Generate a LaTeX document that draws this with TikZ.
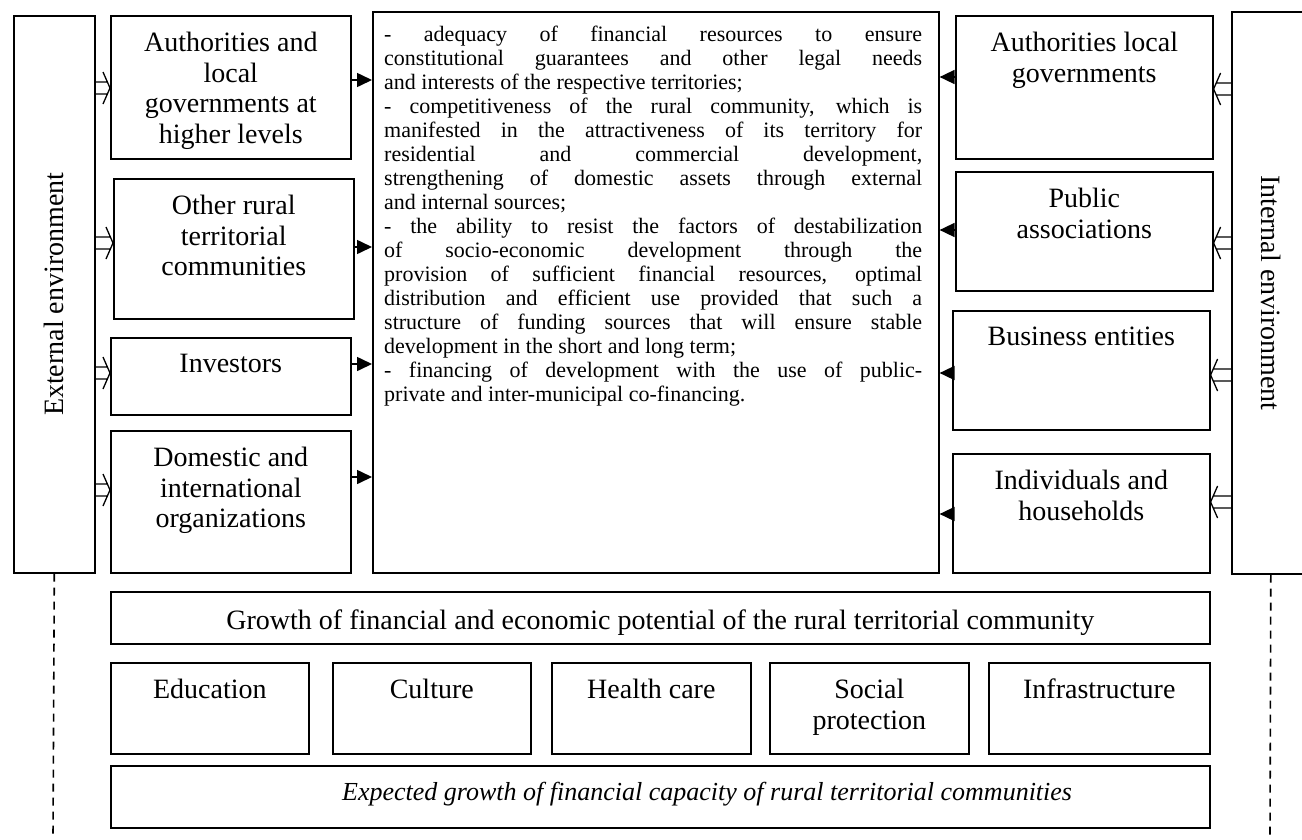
\documentclass[tikz,border=0pt]{standalone}
\usepackage{fontspec}
\setmainfont{Liberation Serif}
\usetikzlibrary{arrows.meta,positioning,calc}

\tikzset{
  cell/.style={draw, line width=1.6pt, inner sep=0pt, anchor=north west},
  celltext/.style={align=center, inner sep=0pt, font=\fontsize{28}{30.5}\selectfont},
  envtext/.style={inner sep=0pt, font=\fontsize{28}{30}\selectfont},
  bodytext/.style={text width=538pt, align=justify, inner sep=0pt,
    font=\fontsize{22}{24}\selectfont},
  feed/.style={line width=1.6pt, -{Triangle[length=15pt,width=14pt]}},
  inflow/.style={line width=1.3pt, line join=miter, to path={
    let \p1=(\tikztostart), \p2=(\tikztotarget) in
    (\x1,{\y1+6pt}) -- ({\x2+#1*2.6pt},{\y1+6pt})
    (\x1,{\y1-6pt}) -- ({\x2+#1*2.6pt},{\y1-6pt})
    ({\x2+#1*7pt},{\y1+16pt}) -- (\x2,\y1) -- ({\x2+#1*7pt},{\y1-16pt})}},
  envline/.style={line width=1.6pt, dash pattern=on 8pt off 6pt}
}

\begin{document}
\begin{tikzpicture}[x=1pt, y=-1pt, node distance=17pt]
    \useasboundingbox (0,0) rectangle (1302,839);

    % Environments
    \node [cell, minimum width=81, minimum height=557] (ext) at (13,15)   {};
    \node [cell, minimum width=78, minimum height=562] (int) at (1231,11) {};
    \node [envtext, rotate=90]  (extt) at (ext.center) {External environment};
    \node [envtext, rotate=-90] (intt) at (int.center) {Internal environment};

    % Main box {criteria}
    \node [cell, minimum width=566, minimum height=561] (main) at (372,11) {};
    \node [bodytext, below right=15pt and 12pt of main.north west] (maint)
      {\parindent=0pt\tolerance=10000\hbadness=10000\hyphenpenalty=10000\exhyphenpenalty=10000
       - adequacy of financial resources to ensure\linebreak
       constitutional guarantees and other legal needs\linebreak
       and interests of the respective territories;\par
       - competitiveness of the rural community, which is\linebreak
       manifested in the attractiveness of its territory for\linebreak
       residential and commercial development,\linebreak
       strengthening of domestic assets through external\linebreak
       and internal sources;\par
       - the ability to resist the factors of destabilization\linebreak
       of socio-economic development through the\linebreak
       provision of sufficient financial resources, optimal\linebreak
       distribution and efficient use provided that such a\linebreak
       structure of funding sources that will ensure stable\linebreak
       development in the short and long term;\par
       - financing of development with the use of public-\linebreak
       private and inter-municipal co-financing.\par};

    % Left column {external actors}
    \node [cell, minimum width=240, minimum height=143] (higher) at (110,15)  {};
    \node [cell, minimum width=240, minimum height=140] (rural)  at (113,178) {};
    \node [cell, minimum width=240, minimum height=77]  (invest) at (110,337) {};
    \node [cell, minimum width=240, minimum height=142] (orgs)   at (110,430) {};
    \node [celltext, below=of higher.north] (highert) {Authorities and\\local\\governments at\\higher levels};
    \node [celltext, below=of rural.north]  (ruralt)  {Other rural\\territorial\\communities};
    \node [celltext, below=of invest.north] (investt) {Investors};
    \node [celltext, below=of orgs.north]   (orgst)   {Domestic and\\international\\organizations};

    % Right column {internal actors}
    \node [cell, minimum width=257, minimum height=143] (localgov) at (955,15)  {};
    \node [cell, minimum width=257, minimum height=119] (public)   at (955,171) {};
    \node [cell, minimum width=257, minimum height=119] (business) at (952,310) {};
    \node [cell, minimum width=257, minimum height=119] (house)    at (952,453) {};
    \node [celltext, below=of localgov.north] (localgovt) {Authorities local\\governments};
    \node [celltext, below=of public.north]   (publict)   {Public\\associations};
    \node [celltext, below=of business.north] (businesst) {Business entities};
    \node [celltext, below=of house.north]    (houset)    {Individuals and\\households};

    % Bottom rows {results}
    \node [cell, minimum width=1099, minimum height=52] (growth) at (110,591) {};
    \node [cell, minimum width=198, minimum height=91]  (edu)    at (110,662) {};
    \node [cell, minimum width=198, minimum height=91]  (cult)   at (332,662) {};
    \node [cell, minimum width=199, minimum height=91]  (health) at (551,662) {};
    \node [cell, minimum width=199, minimum height=91]  (social) at (769,662) {};
    \node [cell, minimum width=221, minimum height=91]  (infra)  at (988,662) {};
    \node [cell, minimum width=1099, minimum height=62] (expect) at (110,765) {};
    \node [celltext, below=19pt of growth.north] (growtht) {Growth of financial and economic potential of the rural territorial community};
    \node [celltext, below=of edu.north]    (edut)    {Education};
    \node [celltext, below=of cult.north]   (cultt)   {Culture};
    \node [celltext, below=of health.north] (healtht) {Health care};
    \node [celltext, below=of social.north] (socialt) {Social\\protection};
    \node [celltext, below=of infra.north]  (infrat)  {Infrastructure};
    \node [celltext, anchor=base west, font=\fontsize{26}{30}\selectfont\itshape] (expectt) at (342,800)
      {Expected growth of financial capacity of rural territorial communities};

    % Paths
    \draw [inflow=-1] (ext.east |- 0,88)  to (higher.west |- 0,88);
    \draw [inflow=-1] (ext.east |- 0,243) to (rural.west |- 0,243);
    \draw [inflow=-1] (ext.east |- 0,373) to (invest.west |- 0,373);
    \draw [inflow=-1] (ext.east |- 0,490) to (orgs.west |- 0,490);

    \draw [feed] (higher.east |- 0,80)  -- (main.west |- 0,80);
    \draw [feed] (rural.east |- 0,247)  -- (main.west |- 0,247);
    \draw [feed] (invest.east |- 0,364) -- (main.west |- 0,364);
    \draw [feed] (orgs.east |- 0,477)   -- (main.west |- 0,477);

    \draw [feed] (localgov.west |- 0,77)  -- (main.east |- 0,77);
    \draw [feed] (public.west |- 0,230)   -- (main.east |- 0,230);
    \draw [feed] (business.west |- 0,373) -- (main.east |- 0,373);
    \draw [feed] (house.west |- 0,514)    -- (main.east |- 0,514);

    \draw [inflow=1] (int.west |- 0,89)  to (localgov.east |- 0,89);
    \draw [inflow=1] (int.west |- 0,243) to (public.east |- 0,243);
    \draw [inflow=1] (int.west |- 0,375) to (business.east |- 0,375);
    \draw [inflow=1] (int.west |- 0,502) to (house.east |- 0,502);

    \coordinate (extend) at (53,839);
    \coordinate (intend) at (1270,839);
    \draw [envline] (ext.south) -- (extend);
    \draw [envline] (int.south) -- (intend);
\end{tikzpicture}
\end{document}
